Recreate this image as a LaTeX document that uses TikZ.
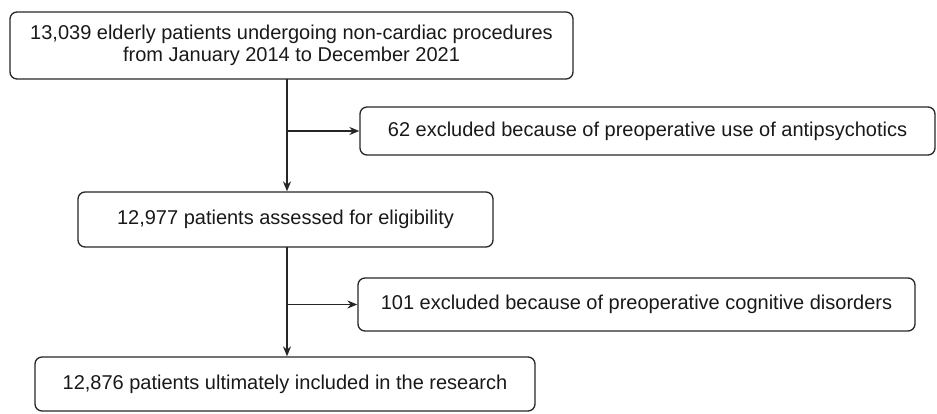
\documentclass[tikz,border=0pt]{standalone}
\usepackage{fontspec}
\setmainfont{Liberation Sans}
\usetikzlibrary{arrows.meta,positioning}
\begin{document}
\begin{tikzpicture}[x=1pt,y=-1pt,
  box/.style={draw=black!85,line width=1.3pt,rounded corners=7pt,inner sep=0pt,align=center,
    font=\fontsize{20}{22.5}\selectfont,text=black!90},
  arr/.style={draw=black!85,line width=1.4pt,-{Stealth[length=10pt,width=8pt]}}]
\useasboundingbox (0,0) rectangle (937,414);
\node[box,minimum width=563pt,minimum height=67pt] (b1) at (291.5,45.5) {13,039 elderly patients undergoing non-cardiac procedures\\from January 2014 to December 2021};
\node[box,minimum width=575pt,minimum height=48pt] (b2) at (647.5,131) {62 excluded because of preoperative use of antipsychotics};
\node[box,minimum width=415pt,minimum height=55pt] (b3) at (285.5,219.5) {12,977 patients assessed for eligibility};
\node[box,minimum width=557pt,minimum height=53pt] (b4) at (636.5,304.5) {101 excluded because of preoperative cognitive disorders};
\node[box,minimum width=500pt,minimum height=54pt] (b5) at (285,384) {12,876 patients ultimately included in the research};
\coordinate (s1) at (287,79);
\coordinate (s2) at (287,247);
\draw[arr] (s1) -- (s1 |- b3.north);
\draw[arr] (b2.west -| s1) -- (b2.west);
\draw[arr] (s2) -- (s2 |- b5.north);
\draw[arr] (b4.west -| s2) -- (b4.west);
\end{tikzpicture}
\end{document}
